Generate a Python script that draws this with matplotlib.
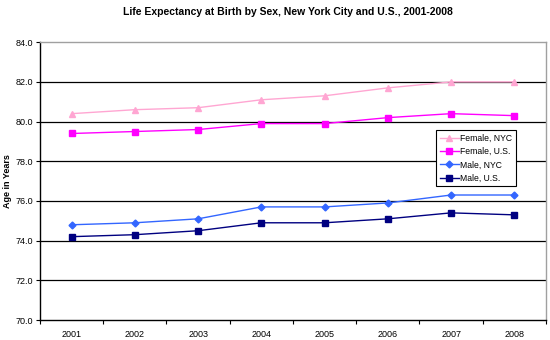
import numpy as np
import matplotlib
matplotlib.use('Agg')
import matplotlib.pyplot as plt

plt.rcParams['font.family'] = ['Liberation Sans', 'DejaVu Sans']

years = ['2001', '2002', '2003', '2004', '2005', '2006', '2007', '2008']
female_nyc = [80.4, 80.6, 80.7, 81.1, 81.3, 81.7, 82.0, 82.0]
female_us = [79.4, 79.5, 79.6, 79.9, 79.9, 80.2, 80.4, 80.3]
male_nyc = [74.8, 74.9, 75.1, 75.7, 75.7, 75.9, 76.3, 76.3]
male_us = [74.2, 74.3, 74.5, 74.9, 74.9, 75.1, 75.4, 75.3]

fig = plt.figure(figsize=(5.5, 3.4), dpi=100)
ax = fig.add_axes([0.0727, 0.0588, 0.920, 0.817])

x = np.arange(len(years))
ax.plot(x, female_nyc, color='#FFA6D2', marker='^', ms=5, lw=1, label='Female, NYC')
ax.plot(x, female_us, color='#FF00FF', marker='s', ms=5, lw=1, label='Female, U.S.')
ax.plot(x, male_nyc, color='#3366FF', marker='D', ms=3.5, lw=1, label='Male, NYC')
ax.plot(x, male_us, color='#000080', marker='s', ms=5, lw=1, label='Male, U.S.')

ax.set_ylim(70, 84)
ax.set_xlim(-0.5, 7.5)
ax.set_yticks(np.arange(70, 84.1, 2))
ax.set_yticklabels(['%.1f' % v for v in np.arange(70, 84.1, 2)], fontsize=6.5)
ax.set_xticks(x)
ax.set_xticklabels(years, fontsize=6.5)
ax.set_xticks(np.arange(-0.5, 8, 1), minor=True)
ax.tick_params(axis='x', which='major', length=0, pad=7)
ax.tick_params(axis='x', which='minor', length=3, direction='out', width=0.8)
ax.tick_params(axis='y', length=3, direction='out', width=0.8, pad=2)

for v in np.arange(72, 83, 2):
    ax.axhline(v, color='black', lw=0.9, zorder=0)

ax.spines['top'].set_color('#a0a0a0')
ax.spines['right'].set_color('#a0a0a0')
ax.spines['left'].set_color('black')
ax.spines['bottom'].set_color('black')
for s in ax.spines.values():
    s.set_linewidth(1)

ax.set_ylabel('Age in Years', fontsize=6.5, fontweight='bold')
ax.yaxis.set_label_coords(-0.056, 0.5)
fig.text(0.523, 0.965, 'Life Expectancy at Birth by Sex, New York City and U.S., 2001-2008',
         ha='center', va='center', fontsize=7.5, fontweight='bold')

leg = ax.legend(loc='upper left', bbox_to_anchor=(0.783, 0.683), fontsize=6.2,
                frameon=True, fancybox=False, edgecolor='black', framealpha=1,
                handlelength=2.2, borderpad=0.4, labelspacing=0.5, handletextpad=0.2,
                borderaxespad=0)
leg.get_frame().set_linewidth(0.8)

fig.savefig('out.png', dpi=100)
